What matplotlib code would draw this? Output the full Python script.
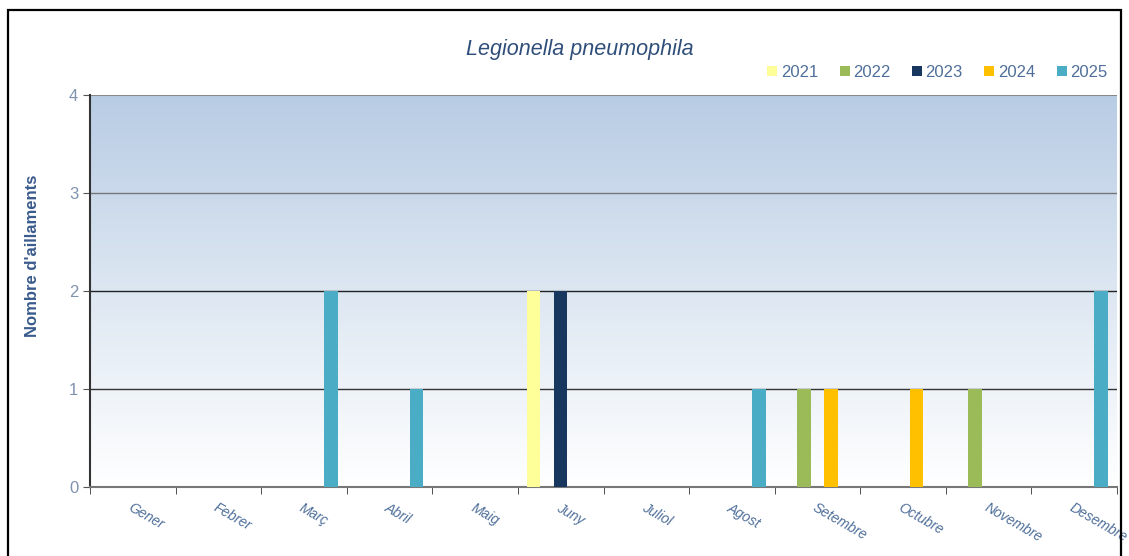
import numpy as np
import matplotlib.pyplot as plt
from matplotlib.patches import Rectangle
from matplotlib.colors import LinearSegmentedColormap

plt.rcParams['font.family'] = ['Liberation Sans', 'DejaVu Sans']

# Data
months = ['Gener', 'Febrer', 'Març', 'Abril', 'Maig', 'Juny', 'Juliol',
          'Agost', 'Setembre', 'Octubre', 'Novembre', 'Desembre']
years = ['2021', '2022', '2023', '2024', '2025']
v2021 = [0, 0, 0, 0, 0, 2, 0, 0, 0, 0, 0, 0]
v2022 = [0, 0, 0, 0, 0, 0, 0, 0, 1, 0, 1, 0]
v2023 = [0, 0, 0, 0, 0, 2, 0, 0, 0, 0, 0, 0]
v2024 = [0, 0, 0, 0, 0, 0, 0, 0, 1, 1, 0, 0]
v2025 = [0, 0, 2, 1, 0, 0, 0, 1, 0, 0, 0, 2]
series = [v2021, v2022, v2023, v2024, v2025]
colors = ['#ffff99', '#9bbb59', '#17375e', '#ffc000', '#4bacc6']

fig = plt.figure(figsize=(11.29, 5.56), dpi=100)
ax = fig.add_axes([90/1129, 69/556, 1027/1129, 392/556])

# outer frame
fig.patches.append(Rectangle((8/1129, -0.02), 1113/1129, 0.02 + 546/556,
                             transform=fig.transFigure, fill=False,
                             edgecolor='black', linewidth=1.6))

# gradient background
cmap = LinearSegmentedColormap.from_list('bg', ['#ffffff', '#dde7f2', '#b8cce4'])
grad = np.linspace(0, 1, 256).reshape(-1, 1)
ax.imshow(grad, extent=[-0.5, 11.5, 0, 4], origin='lower', aspect='auto',
          cmap=cmap, zorder=0)

x = np.arange(len(months))
w = 0.158
for i, (vals, c, yr) in enumerate(zip(series, colors, years)):
    ax.bar(x + (i - 2) * w, vals, width=w, color=c, label=yr, zorder=3)

ax.set_xlim(-0.5, 11.5)
ax.set_ylim(0, 4)
ax.set_yticks([0, 1, 2, 3, 4])
for yv, col in [(1, '#333333'), (2, '#222222'), (3, '#777777')]:
    ax.axhline(yv, color=col, linewidth=1.0, zorder=2)
ax.axhline(4, color='#888888', linewidth=1.5, zorder=2)

ax.set_xticks(x)
ax.set_xticklabels(months, rotation=-30, ha='left', rotation_mode='anchor',
                   style='italic', fontsize=10, color='#4f6f9a')
ax.tick_params(axis='x', which='major', length=0, pad=10)
ax.set_xticks(np.arange(-0.5, 12, 1), minor=True)
ax.tick_params(axis='x', which='minor', length=5, color='#333333', direction='out')
ax.tick_params(axis='y', length=5, color='#555555', labelcolor='#7f93ad', labelsize=12)

for s in ['top', 'right']:
    ax.spines[s].set_visible(False)
ax.spines['left'].set_color('#333333')
ax.spines['left'].set_linewidth(1.5)
ax.spines['bottom'].set_color('#777777')
ax.spines['bottom'].set_linewidth(1.5)

ax.set_ylabel("Nombre d'aillaments", fontsize=12, fontweight='bold',
              color='#3a5b8c')
ax.yaxis.set_label_coords(-0.049, 0.59)

fig.text(580/1129, 1 - 50/556, 'Legionella pneumophila', ha='center', va='center',
         style='italic', fontsize=15.5, color='#2f4f7a')

ax.legend(loc='lower right', bbox_to_anchor=(1.005, 1.0), ncol=5, frameon=False,
          fontsize=12, handlelength=0.6, handleheight=0.6, handletextpad=0.2,
          columnspacing=1.3, labelcolor='#4f6f9a')

fig.savefig('out.png', dpi=100)
